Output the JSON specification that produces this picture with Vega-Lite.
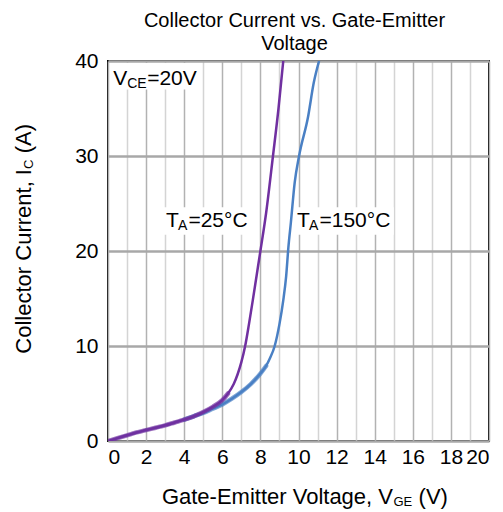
{
  "$schema": "https://vega.github.io/schema/vega-lite/v6.json",
  "autosize": {"type": "none"},
  "padding": {"left": 108, "top": 61, "right": 14, "bottom": 71},
  "width": 381,
  "height": 380,
  "background": "white",
  "title": {
    "text": ["Collector Current vs. Gate-Emitter", "Voltage"],
    "font": "Liberation Sans",
    "fontSize": 20,
    "fontWeight": "normal",
    "color": "black",
    "lineHeight": 23,
    "anchor": "middle",
    "offset": -4,
    "dx": -4
  },
  "config": {
    "view": {"stroke": "black", "strokeWidth": 2},
    "axis": {"labelFont": "Liberation Sans", "labelColor": "black", "labelFontSize": 21, "ticks": false, "domain": false, "title": null, "labelOverlap": false}
  },
  "datasets": {
    "ta25": [
      {"V": 0, "I": 0}, {"V": 0.5, "I": 0.3}, {"V": 1, "I": 0.6}, {"V": 1.5, "I": 0.9},
      {"V": 2, "I": 1.15}, {"V": 2.5, "I": 1.4}, {"V": 3, "I": 1.65}, {"V": 3.5, "I": 1.95},
      {"V": 4, "I": 2.25}, {"V": 4.5, "I": 2.6}, {"V": 5, "I": 3.05}, {"V": 5.5, "I": 3.6},
      {"V": 6, "I": 4.3}, {"V": 6.3, "I": 5.0}, {"V": 6.6, "I": 6.0}, {"V": 6.8, "I": 7.0},
      {"V": 7.0, "I": 8.3}, {"V": 7.2, "I": 10.0}, {"V": 7.4, "I": 12.3}, {"V": 7.6, "I": 14.8},
      {"V": 7.8, "I": 17.4}, {"V": 8.0, "I": 20.0}, {"V": 8.3, "I": 24.0}, {"V": 8.66, "I": 30.0},
      {"V": 8.95, "I": 35.0}, {"V": 9.2, "I": 40.0}
    ],
    "ta150": [
      {"V": 0, "I": 0}, {"V": 0.5, "I": 0.3}, {"V": 1, "I": 0.6}, {"V": 1.5, "I": 0.9},
      {"V": 2, "I": 1.15}, {"V": 2.5, "I": 1.4}, {"V": 3, "I": 1.65}, {"V": 3.5, "I": 1.95},
      {"V": 4, "I": 2.25}, {"V": 4.5, "I": 2.6}, {"V": 5, "I": 2.95}, {"V": 5.5, "I": 3.4},
      {"V": 6, "I": 3.85}, {"V": 6.5, "I": 4.45}, {"V": 7, "I": 5.15}, {"V": 7.5, "I": 6.0},
      {"V": 8, "I": 7.1}, {"V": 8.3, "I": 7.9}, {"V": 8.5, "I": 8.7}, {"V": 8.75, "I": 10.0},
      {"V": 9.0, "I": 12.3}, {"V": 9.2, "I": 14.8}, {"V": 9.35, "I": 17.3}, {"V": 9.47, "I": 20.4},
      {"V": 9.6, "I": 23.0}, {"V": 9.8, "I": 27.2}, {"V": 10.03, "I": 30.0}, {"V": 10.5, "I": 34.1},
      {"V": 10.8, "I": 37.7}, {"V": 11.08, "I": 40.0}
    ]
  },
  "layer": [
    {
      "data": {"name": "ta150"},
      "mark": {"type": "line", "color": "#4a80c4", "strokeWidth": 2.5, "clip": true, "interpolate": "monotone"},
      "encoding": {
        "x": {"field": "V", "type": "quantitative", "scale": {"domain": [0, 20], "nice": false},
          "axis": {"values": [0,1,2,3,4,5,6,7,8,9,10,11,12,13,14,15,16,17,18,19,20], "tickCount": 21,
            "labelExpr": "datum.value % 2 == 0 ? datum.label : ''",
            "labelPadding": 5, "grid": true, "gridWidth": 1.5,
            "gridColor": {"condition": {"test": "datum.value % 2 == 0", "value": "#b2b2b2"}, "value": "#d4d4d4"}}},
        "y": {"field": "I", "type": "quantitative", "scale": {"domain": [0, 40], "nice": false},
          "axis": {"values": [0, 10, 20, 30, 40], "tickCount": 5, "labelPadding": 10, "grid": true, "gridColor": "#a8a8a8", "gridWidth": 2.5}}
      }
    },
    {
      "data": {"name": "ta150"},
      "transform": [{"filter": "datum.V >= 4 && datum.I <= 8"}],
      "mark": {"type": "line", "color": "#4a80c4", "strokeWidth": 4.5, "opacity": 0.7, "clip": true, "interpolate": "monotone", "strokeCap": "round"},
      "encoding": {"x": {"field": "V", "type": "quantitative"}, "y": {"field": "I", "type": "quantitative"}}
    },
    {
      "data": {"name": "ta25"},
      "mark": {"type": "line", "color": "#7030a0", "strokeWidth": 2.5, "clip": true, "interpolate": "monotone"},
      "encoding": {"x": {"field": "V", "type": "quantitative"}, "y": {"field": "I", "type": "quantitative"}}
    },
    {
      "data": {"name": "ta25"},
      "transform": [{"filter": "datum.I <= 5"}],
      "mark": {"type": "line", "color": "#7030a0", "strokeWidth": 4.5, "opacity": 0.7, "clip": true, "interpolate": "monotone", "strokeCap": "round"},
      "encoding": {"x": {"field": "V", "type": "quantitative"}, "y": {"field": "I", "type": "quantitative"}}
    },
    {
      "data": {"values": [{}]},
      "mark": {"type": "rect", "color": "white"},
      "encoding": {"x": {"datum": 0.1}, "x2": {"datum": 4.8}, "y": {"datum": 39.8}, "y2": {"datum": 37.0}}
    },
    {
      "data": {"values": [{}]},
      "mark": {"type": "rect", "color": "white"},
      "encoding": {"x": {"datum": 2.9}, "x2": {"datum": 7.45}, "y": {"datum": 24.6}, "y2": {"datum": 21.7}}
    },
    {
      "data": {"values": [{}]},
      "mark": {"type": "rect", "color": "white"},
      "encoding": {"x": {"datum": 9.78}, "x2": {"datum": 15.0}, "y": {"datum": 24.6}, "y2": {"datum": 21.7}}
    },
    {
      "data": {"values": [{}]},
      "mark": {"type": "text", "text": "V", "align": "left", "baseline": "alphabetic", "font": "Liberation Sans", "fontSize": 21, "color": "black"},
      "encoding": {"x": {"datum": 0.27}, "y": {"datum": 37.47}}
    },
    {
      "data": {"values": [{}]},
      "mark": {"type": "text", "text": "CE", "align": "left", "baseline": "alphabetic", "dx": 14, "dy": 2.5, "font": "Liberation Sans", "fontSize": 14, "color": "black"},
      "encoding": {"x": {"datum": 0.27}, "y": {"datum": 37.47}}
    },
    {
      "data": {"values": [{}]},
      "mark": {"type": "text", "text": "=20V", "align": "left", "baseline": "alphabetic", "dx": 34, "font": "Liberation Sans", "fontSize": 21, "color": "black"},
      "encoding": {"x": {"datum": 0.27}, "y": {"datum": 37.47}}
    },
    {
      "data": {"values": [{}]},
      "mark": {"type": "text", "text": "T", "align": "left", "baseline": "alphabetic", "font": "Liberation Sans", "fontSize": 21, "color": "black"},
      "encoding": {"x": {"datum": 3.04}, "y": {"datum": 22.5}}
    },
    {
      "data": {"values": [{}]},
      "mark": {"type": "text", "text": "A", "align": "left", "baseline": "alphabetic", "dx": 12, "dy": 3, "font": "Liberation Sans", "fontSize": 14, "color": "black"},
      "encoding": {"x": {"datum": 3.04}, "y": {"datum": 22.5}}
    },
    {
      "data": {"values": [{}]},
      "mark": {"type": "text", "text": "=25°C", "align": "left", "baseline": "alphabetic", "dx": 22.5, "font": "Liberation Sans", "fontSize": 21, "color": "black"},
      "encoding": {"x": {"datum": 3.04}, "y": {"datum": 22.5}}
    },
    {
      "data": {"values": [{}]},
      "mark": {"type": "text", "text": "T", "align": "left", "baseline": "alphabetic", "font": "Liberation Sans", "fontSize": 21, "color": "black"},
      "encoding": {"x": {"datum": 9.92}, "y": {"datum": 22.5}}
    },
    {
      "data": {"values": [{}]},
      "mark": {"type": "text", "text": "A", "align": "left", "baseline": "alphabetic", "dx": 12, "dy": 3, "font": "Liberation Sans", "fontSize": 14, "color": "black"},
      "encoding": {"x": {"datum": 9.92}, "y": {"datum": 22.5}}
    },
    {
      "data": {"values": [{}]},
      "mark": {"type": "text", "text": "=150°C", "align": "left", "baseline": "alphabetic", "dx": 22.5, "font": "Liberation Sans", "fontSize": 21, "color": "black"},
      "encoding": {"x": {"datum": 9.92}, "y": {"datum": 22.5}}
    },
    {
      "data": {"values": [{}]},
      "mark": {"type": "text", "text": "Gate-Emitter Voltage, V", "align": "right", "baseline": "alphabetic", "font": "Liberation Sans", "fontSize": 22, "color": "black"},
      "encoding": {"x": {"datum": 14.96}, "y": {"datum": -6.63}}
    },
    {
      "data": {"values": [{}]},
      "mark": {"type": "text", "text": "GE", "align": "left", "baseline": "alphabetic", "dx": 0.5, "dy": 2, "font": "Liberation Sans", "fontSize": 13, "color": "black"},
      "encoding": {"x": {"datum": 14.96}, "y": {"datum": -6.63}}
    },
    {
      "data": {"values": [{}]},
      "mark": {"type": "text", "text": "(V)", "align": "left", "baseline": "alphabetic", "dx": 25.6, "font": "Liberation Sans", "fontSize": 22, "color": "black"},
      "encoding": {"x": {"datum": 14.96}, "y": {"datum": -6.63}}
    },
    {
      "data": {"values": [{}]},
      "mark": {"type": "text", "text": "Collector Current, I", "angle": 270, "align": "right", "baseline": "alphabetic", "font": "Liberation Sans", "fontSize": 22, "color": "black"},
      "encoding": {"x": {"datum": -4.016}, "y": {"datum": 28.63}}
    },
    {
      "data": {"values": [{}]},
      "mark": {"type": "text", "text": "C", "angle": 270, "align": "left", "baseline": "alphabetic", "dy": 2, "font": "Liberation Sans", "fontSize": 13, "color": "black"},
      "encoding": {"x": {"datum": -4.016}, "y": {"datum": 28.63}}
    },
    {
      "data": {"values": [{}]},
      "mark": {"type": "text", "text": "(A)", "angle": 270, "align": "left", "baseline": "alphabetic", "dx": 15.7, "font": "Liberation Sans", "fontSize": 22, "color": "black"},
      "encoding": {"x": {"datum": -4.016}, "y": {"datum": 28.63}}
    }
  ]
}
